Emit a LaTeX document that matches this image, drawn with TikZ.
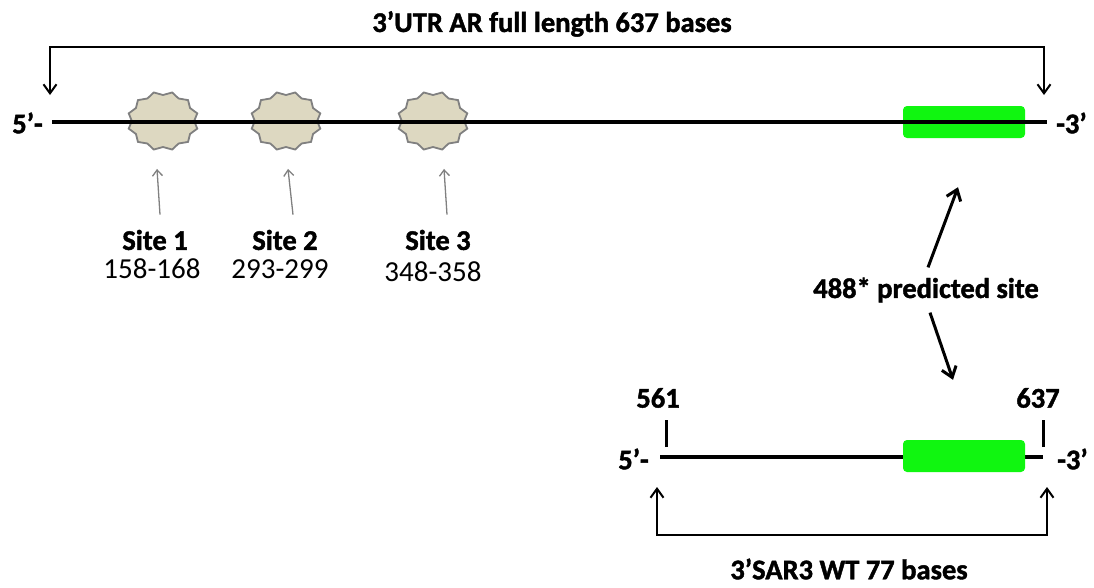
\documentclass[tikz,border=0pt]{standalone}
\usepackage{fontspec}
\setmainfont{Carlito}[BoldFeatures={FakeBold=1.5}]
\usetikzlibrary{arrows.meta,shapes.geometric}
\definecolor{sitegreen}{RGB}{16,246,16}
\definecolor{starfill}{RGB}{221,216,193}
\definecolor{stargray}{RGB}{128,128,128}
\tikzset{
  strand/.style={line width=4pt},
  bracket/.style={line width=1.6pt,{Straight Barb[length=9pt,width=13pt,line width=2pt]}-{Straight Barb[length=9pt,width=13pt,line width=2pt]}},
  sitearrow/.style={stargray,line width=1.3pt,-{Straight Barb[length=6pt,width=10pt,line width=1.3pt]}},
  bigarrow/.style={line width=3pt,-{Straight Barb[length=10pt,width=15pt,line width=3pt]}},
  hit/.style={star,star points=12,star point ratio=0.88,minimum size=52pt,inner sep=0pt,
    fill=starfill,draw=stargray,line width=1.8pt,xscale=1.2},
  box/.style={rectangle,rounded corners=4pt,fill=sitegreen,minimum width=122pt,minimum height=32pt,inner sep=0pt},
  lbl/.style={font=\bfseries\fontsize{28.5}{32}\selectfont,inner sep=0pt},
  num/.style={font=\fontsize{29}{32}\selectfont,inner sep=0pt}
}
\begin{document}
\begin{tikzpicture}[x=1pt,y=-1pt]
        \useasboundingbox (0,0) rectangle (1094,587);

        % Full length 3'UTR
        \node[lbl] (title) at (552,24) {3’UTR AR full length 637 bases};
        \coordinate (a5) at (50,95);
        \coordinate (a3) at (1044,95);
        \draw[bracket] (a5) -- (50,47) -- (1044,47) -- (a3);

        \node[hit] (star1) at (163,121) {};
        \node[hit] (star2) at (286,121) {};
        \node[hit] (star3) at (433,121) {};
        \node[box] (green1) at (964,122) {};

        \coordinate (s5) at (52,122);
        \coordinate (s3) at (1047,122);
        \draw[strand] (s5) -- (s3);
        \node[lbl,anchor=east] (end5) at (43,123) {5’-};
        \node[lbl,anchor=west] (end3) at (1056,123) {-3’};

        % Sites
        \node[lbl] (name1) at (155,240) {Site 1};
        \node[lbl] (name2) at (285,240) {Site 2};
        \node[lbl] (name3) at (438,240) {Site 3};
        \node[num] (pos1) at (152,269) {158-168};
        \node[num] (pos2) at (280,269) {293-299};
        \node[num] (pos3) at (433,272) {348-358};
        \draw[sitearrow] ([xshift=5pt,yshift=15pt]name1.north) -- ([xshift=-6pt,yshift=-21pt]star1.south);
        \draw[sitearrow] ([xshift=8pt,yshift=15pt]name2.north) -- ([xshift=2pt,yshift=-21pt]star2.south);
        \draw[sitearrow] ([xshift=9pt,yshift=15pt]name3.north) -- ([xshift=11pt,yshift=-21pt]star3.south);

        % Predicted site
        \node[lbl] (pred) at (926,290) {488* predicted site};
        \draw[bigarrow] ([xshift=2pt,yshift=10pt]pred.north) -- ([xshift=-6pt,yshift=-49pt]green1.south);

        % SAR3 WT fragment
        \coordinate (t5) at (660,457);
        \coordinate (t3) at (1043,457);
        \draw[strand] (t5) -- (t3);
        \node[box] (green2) at (964,456) {};
        \draw[bigarrow] ([xshift=4pt,yshift=-10pt]pred.south) -- ([xshift=-11pt,yshift=60pt]green2.north);
        \node[lbl,anchor=east] (end5b) at (649,459) {5’-};
        \node[lbl,anchor=west] (end3b) at (1057,459) {-3’};
        \draw[line width=3pt] (666,447) -- (666,420) coordinate (tick1);
        \draw[line width=3pt] (1043,447) -- (1043,420) coordinate (tick2);
        \node[lbl] (n561) at (658,398) {561};
        \node[lbl] (n637) at (1038,398) {637};

        \coordinate (b5) at (657,487);
        \coordinate (b3) at (1047,487);
        \draw[bracket] (b5) -- (657,535) -- (1047,535) -- (b3);
        \node[lbl] (title2) at (849,569) {3’SAR3 WT 77 bases};

\end{tikzpicture}
\end{document}
